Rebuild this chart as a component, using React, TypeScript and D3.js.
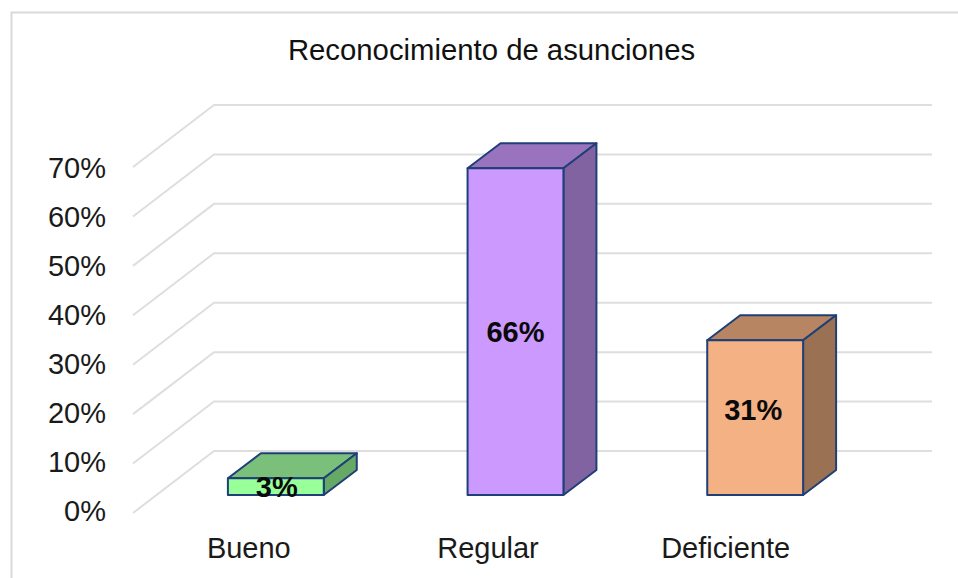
import React from "react";
import * as d3 from "d3";

const categories = ["Bueno", "Regular", "Deficiente"];
const values = [3.4, 66.1, 31.3];
const ticks = [0, 10, 20, 30, 40, 50, 60, 70];
const faceColors = ["#99ff99", "#cc99ff", "#f4b183"];
const topColors = ["#7abf7a", "#9a73bf", "#b88562"];
const sideColors = ["#66a866", "#8063a0", "#9a7153"];
const title = "Reconocimiento de asunciones";

const FONT = "'Liberation Sans', Arial, sans-serif";
const W = 958;
const H = 578;
const wallDx = 81;
const wallDy = 62;
const barDx = 33;
const barDy = 25;
const barFrontY0 = 495;
const labelNudge = [10, 10.5, 2];
const labelNudgeX = [1, 0, -2];
const categoryNudgeX = [-27, -27.5, -29.5];

const yBack = d3.scaleLinear().domain([0, 70]).range([451, 105]);
const yBar = d3.scaleLinear().domain([0, 70]).range([barFrontY0, barFrontY0 - 346]);
const yTickLabel = d3.scaleLinear().domain([0, 70]).range([521, 177.5]);
const xBand = d3.scaleBand<string>().domain(categories).range([156, 875]).paddingInner(0.6).paddingOuter(0.3);

const poly = (pts: [number, number][]) => pts.map((p) => p.join(",")).join(" ");

export default function App() {
  return (
    <svg
      width={W}
      height={H}
      style={{ position: "absolute", left: 0, top: 0, background: "#fff" }}
      fontFamily={FONT}
    >
      <rect x={11.5} y={12.5} width={W + 20} height={H + 20} fill="#fff" stroke="#d9d9d9" strokeWidth={2} />
      <text x={491.5} y={60} textAnchor="middle" fontSize={29.3} fill="#111">
        {title}
      </text>
      {ticks.map((t) => {
        const y = yBack(t);
        return (
          <g key={t}>
            <polyline
              points={poly([
                [932, y],
                [214, y],
                [214 - wallDx, y + wallDy],
              ])}
              fill="none"
              stroke="#dedede"
              strokeWidth={2}
            />
            <text x={106} y={yTickLabel(t)} textAnchor="end" fontSize={29} fill="#1a1a1a">
              {t}%
            </text>
          </g>
        );
      })}
      {categories.map((c, i) => {
        const x0 = xBand(c)!;
        const x1 = x0 + xBand.bandwidth();
        const yT = yBar(values[i]);
        const yB = yBar(0);
        return (
          <g key={c} stroke="#1f3f77" strokeWidth={2} strokeLinejoin="round">
            <polygon
              points={poly([
                [x0, yT],
                [x0 + barDx, yT - barDy],
                [x1 + barDx, yT - barDy],
                [x1, yT],
              ])}
              fill={topColors[i]}
            />
            <polygon
              points={poly([
                [x1, yT],
                [x1 + barDx, yT - barDy],
                [x1 + barDx, yB - barDy],
                [x1, yB],
              ])}
              fill={sideColors[i]}
            />
            <rect x={x0} y={yT} width={x1 - x0} height={yB - yT} fill={faceColors[i]} />
          </g>
        );
      })}
      {categories.map((c, i) => {
        const x0 = xBand(c)!;
        const cx = x0 + xBand.bandwidth() / 2;
        const yT = yBar(values[i]);
        const yB = yBar(0);
        return (
          <g key={c + "-label"}>
            <text
              x={cx + labelNudgeX[i]}
              y={(yT + yB) / 2 + labelNudge[i]}
              textAnchor="middle"
              fontSize={29}
              fontWeight="bold"
              fill="#0a0a0a"
            >
              {Math.round(values[i])}%
            </text>
            <text x={cx + categoryNudgeX[i]} y={558} textAnchor="middle" fontSize={29} fill="#1a1a1a">
              {c}
            </text>
          </g>
        );
      })}
    </svg>
  );
}
